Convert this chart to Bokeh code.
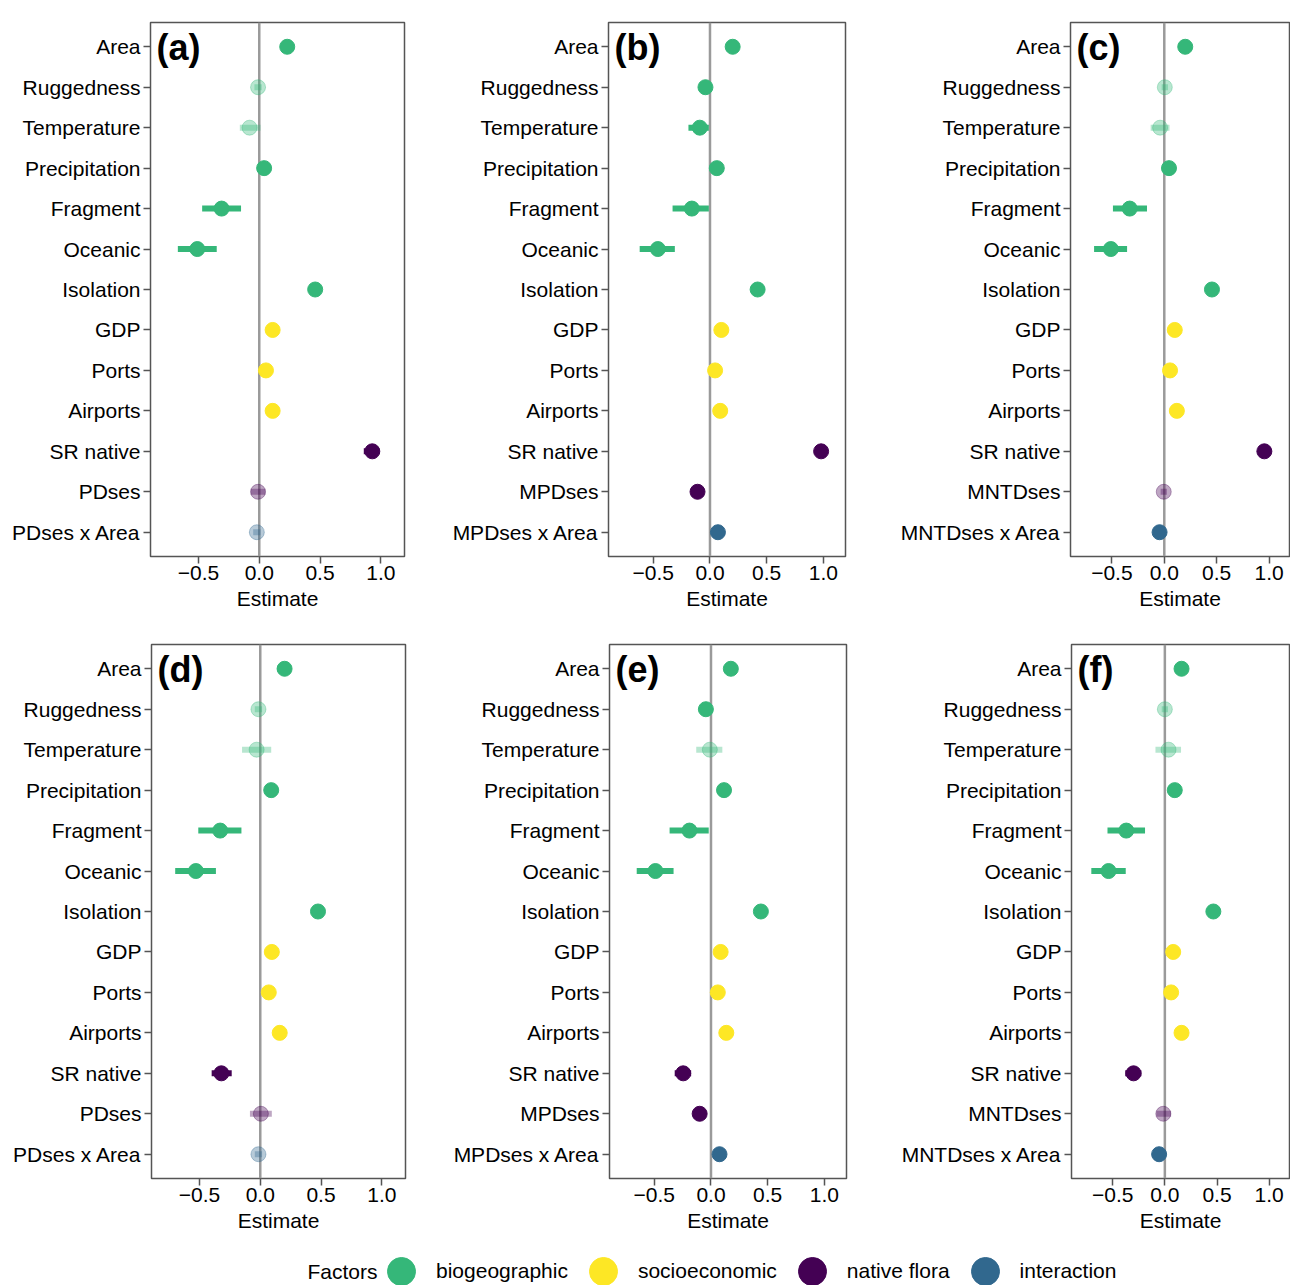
import numpy as np
from bokeh.plotting import figure
from bokeh.layouts import column, row
from bokeh.models import (FactorRange, Range1d, FixedTicker, Span, Label,
                          Legend, LegendItem, ColumnDataSource)
from bokeh.embed import file_html
from bokeh.resources import INLINE

FONT = "Liberation Sans"

# ---------------- data ----------------
base_terms = ["Area", "Ruggedness", "Temperature", "Precipitation", "Fragment",
              "Oceanic", "Isolation", "GDP", "Ports", "Airports", "SR native"]
base_groups = ["biogeographic"] * 7 + ["socioeconomic"] * 3 + ["native flora"]

group_names = ["biogeographic", "socioeconomic", "native flora", "interaction"]
group_colors = ["#35B779", "#FDE725", "#440154", "#31688E"]

x_ticks = [-0.5, 0.0, 0.5, 1.0]
x_tick_labels = ["\u22120.5", "0.0", "0.5", "1.0"]
x_limits = (-0.895, 1.195)

panel_tags = ["(a)", "(b)", "(c)", "(d)", "(e)", "(f)"]
panel_metric = ["PDses", "MPDses", "MNTDses", "PDses", "MPDses", "MNTDses"]

est_a = [0.23, -0.01, -0.08, 0.04, -0.31, -0.51, 0.46, 0.11, 0.055, 0.11, 0.93, -0.01, -0.02]
lo_a = [0.20, -0.04, -0.16, 0.01, -0.47, -0.67, 0.43, 0.08, 0.025, 0.08, 0.86, -0.07, -0.05]
hi_a = [0.26, 0.02, 0.01, 0.07, -0.15, -0.35, 0.49, 0.14, 0.085, 0.14, 0.99, 0.05, 0.01]
sig_a = [1, 0, 0, 1, 1, 1, 1, 1, 1, 1, 1, 0, 0]

est_b = [0.20, -0.04, -0.09, 0.06, -0.16, -0.46, 0.42, 0.10, 0.045, 0.09, 0.98, -0.11, 0.07]
lo_b = [0.17, -0.07, -0.19, 0.03, -0.33, -0.62, 0.39, 0.07, 0.015, 0.06, 0.94, -0.14, 0.04]
hi_b = [0.23, -0.01, -0.01, 0.09, -0.01, -0.31, 0.45, 0.13, 0.075, 0.12, 1.02, -0.08, 0.10]
sig_b = [1, 1, 1, 1, 1, 1, 1, 1, 1, 1, 1, 1, 1]

est_c = [0.20, 0.005, -0.04, 0.045, -0.33, -0.51, 0.455, 0.10, 0.055, 0.12, 0.955, -0.005, -0.045]
lo_c = [0.17, -0.025, -0.13, 0.015, -0.49, -0.67, 0.425, 0.07, 0.025, 0.09, 0.90, -0.035, -0.075]
hi_c = [0.23, 0.035, 0.05, 0.075, -0.165, -0.355, 0.485, 0.13, 0.085, 0.15, 1.0, 0.025, -0.015]
sig_c = [1, 0, 0, 1, 1, 1, 1, 1, 1, 1, 1, 0, 1]

est_d = [0.20, -0.015, -0.03, 0.09, -0.33, -0.53, 0.475, 0.095, 0.07, 0.16, -0.32, 0.005, -0.015]
lo_d = [0.14, -0.045, -0.15, 0.06, -0.51, -0.70, 0.42, 0.065, 0.04, 0.13, -0.40, -0.085, -0.045]
hi_d = [0.25, 0.015, 0.09, 0.12, -0.155, -0.365, 0.53, 0.125, 0.10, 0.19, -0.235, 0.095, 0.015]
sig_d = [1, 0, 0, 1, 1, 1, 1, 1, 1, 1, 1, 0, 0]

est_e = [0.175, -0.045, -0.01, 0.115, -0.19, -0.49, 0.44, 0.085, 0.06, 0.135, -0.245, -0.10, 0.075]
lo_e = [0.145, -0.075, -0.13, 0.085, -0.365, -0.655, 0.41, 0.055, 0.03, 0.105, -0.32, -0.13, 0.045]
hi_e = [0.205, -0.015, 0.10, 0.145, -0.02, -0.33, 0.47, 0.115, 0.09, 0.165, -0.175, -0.07, 0.105]
sig_e = [1, 1, 0, 1, 1, 1, 1, 1, 1, 1, 1, 1, 1]

est_f = [0.16, 0.0, 0.035, 0.095, -0.37, -0.54, 0.465, 0.08, 0.06, 0.16, -0.30, -0.015, -0.055]
lo_f = [0.13, -0.03, -0.09, 0.065, -0.55, -0.705, 0.435, 0.05, 0.03, 0.13, -0.38, -0.08, -0.085]
hi_f = [0.19, 0.03, 0.155, 0.125, -0.19, -0.375, 0.495, 0.11, 0.09, 0.19, -0.225, 0.06, -0.025]
sig_f = [1, 0, 0, 1, 1, 1, 1, 1, 1, 1, 1, 0, 1]

panel_data = [(est_a, lo_a, hi_a, sig_a), (est_b, lo_b, hi_b, sig_b),
              (est_c, lo_c, hi_c, sig_c), (est_d, lo_d, hi_d, sig_d),
              (est_e, lo_e, hi_e, sig_e), (est_f, lo_f, hi_f, sig_f)]

# layout: (border_left, frame_width, border_right)
FRAME_H = 534
top_geom = [(150, 254, 16), (188, 237, 15), (210, 219, 1)]
bot_geom = [(151, 254, 15), (189, 237, 14), (211, 218, 1)]

color_of = dict(zip(group_names, group_colors))


def style_axis(ax):
    ax.axis_line_color = None
    ax.major_tick_line_color = "#555555"
    ax.major_tick_line_width = 1.5
    ax.major_tick_out = 7
    ax.major_tick_in = 0
    ax.minor_tick_line_color = None
    ax.major_label_text_font = FONT
    ax.major_label_text_font_size = "21px"
    ax.major_label_text_color = "black"


def make_panel(i, geom, bt, bb):
    est, lo, hi, sig = panel_data[i]
    metric = panel_metric[i]
    terms = base_terms + [metric, metric + " x Area"]
    groups = base_groups + ["native flora", "interaction"]
    bl, fw, br = geom
    w = bl + fw + br
    h = bt + FRAME_H + bb
    factors = list(reversed(terms))
    yr = FactorRange(factors=factors, range_padding=0.1,
                     range_padding_units="absolute")
    p = figure(width=w, height=h, y_range=yr, x_range=Range1d(*x_limits),
               output_backend="svg", toolbar_location=None,
               min_border_left=bl, min_border_right=br,
               min_border_top=bt, min_border_bottom=bb)
    p.grid.visible = False
    p.outline_line_color = "#555555"
    p.outline_line_width = 1.5
    p.background_fill_color = "white"
    p.border_fill_color = "white"

    p.add_layout(Span(location=0, dimension="height", line_color="#9a9a9a",
                      line_width=2.5, level="underlay"))

    alphas = [1.0 if s else 0.35 for s in sig]
    src = ColumnDataSource(dict(
        y=terms, est=est, lo=lo, hi=hi,
        color=[color_of[g] for g in groups], alpha=alphas))
    p.segment(x0="lo", y0="y", x1="hi", y1="y", source=src, line_width=6,
              line_color="color", line_alpha="alpha")
    p.scatter(x="est", y="y", source=src, size=15, fill_color="color",
              fill_alpha="alpha", line_color="color", line_alpha="alpha",
              line_width=1)

    style_axis(p.xaxis[0])
    style_axis(p.yaxis[0])
    p.yaxis[0].major_label_standoff = 3
    p.xaxis[0].ticker = FixedTicker(ticks=x_ticks)
    p.xaxis[0].major_label_overrides = dict(zip(x_ticks, x_tick_labels))
    p.xaxis[0].major_label_standoff = 2
    p.xaxis[0].axis_label = "Estimate"
    p.xaxis[0].axis_label_text_font = FONT
    p.xaxis[0].axis_label_text_font_size = "21px"
    p.xaxis[0].axis_label_text_font_style = "normal"
    p.xaxis[0].axis_label_text_color = "black"
    p.xaxis[0].axis_label_standoff = 4

    # panel tag in the frame's upper-left corner (text outside the frame is clipped)
    p.add_layout(Label(x=6, x_units="screen", y=FRAME_H - 4, y_units="screen",
                       text=panel_tags[i], text_align="left",
                       text_baseline="top", text_font=FONT,
                       text_font_size="36px", text_font_style="bold",
                       text_color="black"))
    return p


top = [make_panel(i, top_geom[i], 22, 74) for i in range(3)]
bot = [make_panel(i + 3, bot_geom[i], 14, 62) for i in range(3)]

# ---------------- legend strip ----------------
lg = figure(width=1290, height=45, output_backend="svg", toolbar_location=None,
            x_axis_type=None, y_axis_type=None, x_range=Range1d(0, 1),
            y_range=Range1d(0, 1), min_border=0)
lg.outline_line_color = None
lg.grid.visible = False
items = []
for name, colr in zip(group_names, group_colors):
    r = lg.scatter(x=np.array([np.nan]), y=np.array([np.nan]), size=28,
                   fill_color=colr, line_color=colr)
    items.append(LegendItem(label=name, renderers=[r]))
legend = Legend(items=items, orientation="horizontal", location=(366, -21),
                glyph_width=70, glyph_height=70, label_standoff=0, spacing=0,
                padding=0, margin=0, border_line_color=None,
                background_fill_alpha=0, label_text_font=FONT,
                label_text_font_size="21px", label_text_color="black")
lg.add_layout(legend)
lg.add_layout(Label(x=307, y=14, x_units="screen", y_units="screen", text="Factors",
                    text_baseline="middle", text_font=FONT, text_font_size="21px",
                    text_color="black"))

layout = column(row(*top, spacing=0), row(*bot, spacing=0), lg, spacing=0)

open("out.html", "w").write(file_html(layout, INLINE))
